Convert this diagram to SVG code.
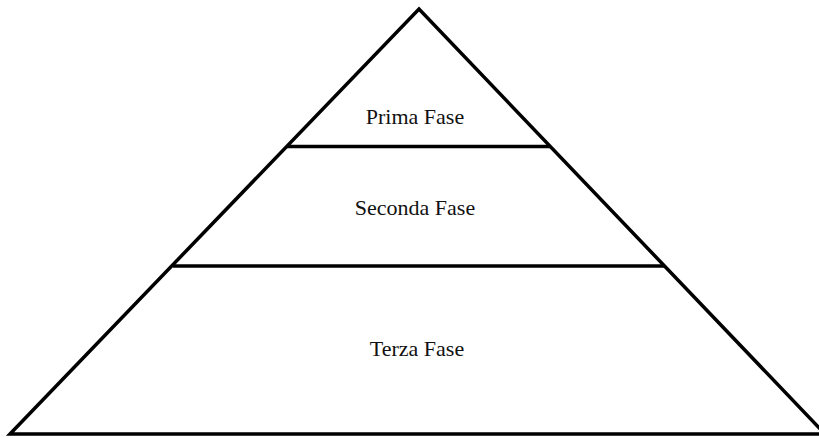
<svg xmlns="http://www.w3.org/2000/svg" width="819" height="438" viewBox="0 0 819 438">
<style>
.ln{stroke:#000;stroke-width:3.5;fill:none;stroke-linejoin:miter;stroke-linecap:butt}
.t{font-family:"Liberation Serif","DejaVu Serif",serif;font-size:22px;fill:#111;text-anchor:middle}
</style>
<rect width="819" height="438" fill="#fff"/>
<g id="connectors">
<path class="ln" d="M10,434 L419,9 L825,434 Z"/>
<line class="ln" x1="287" y1="146.5" x2="550" y2="146.5"/>
<line class="ln" x1="173" y1="266" x2="665" y2="266"/>
</g>
<g id="prima"><text class="t" x="415" y="124">Prima Fase</text></g>
<g id="seconda"><text class="t" x="415" y="215">Seconda Fase</text></g>
<g id="terza"><text class="t" x="417" y="356">Terza Fase</text></g>
</svg>
